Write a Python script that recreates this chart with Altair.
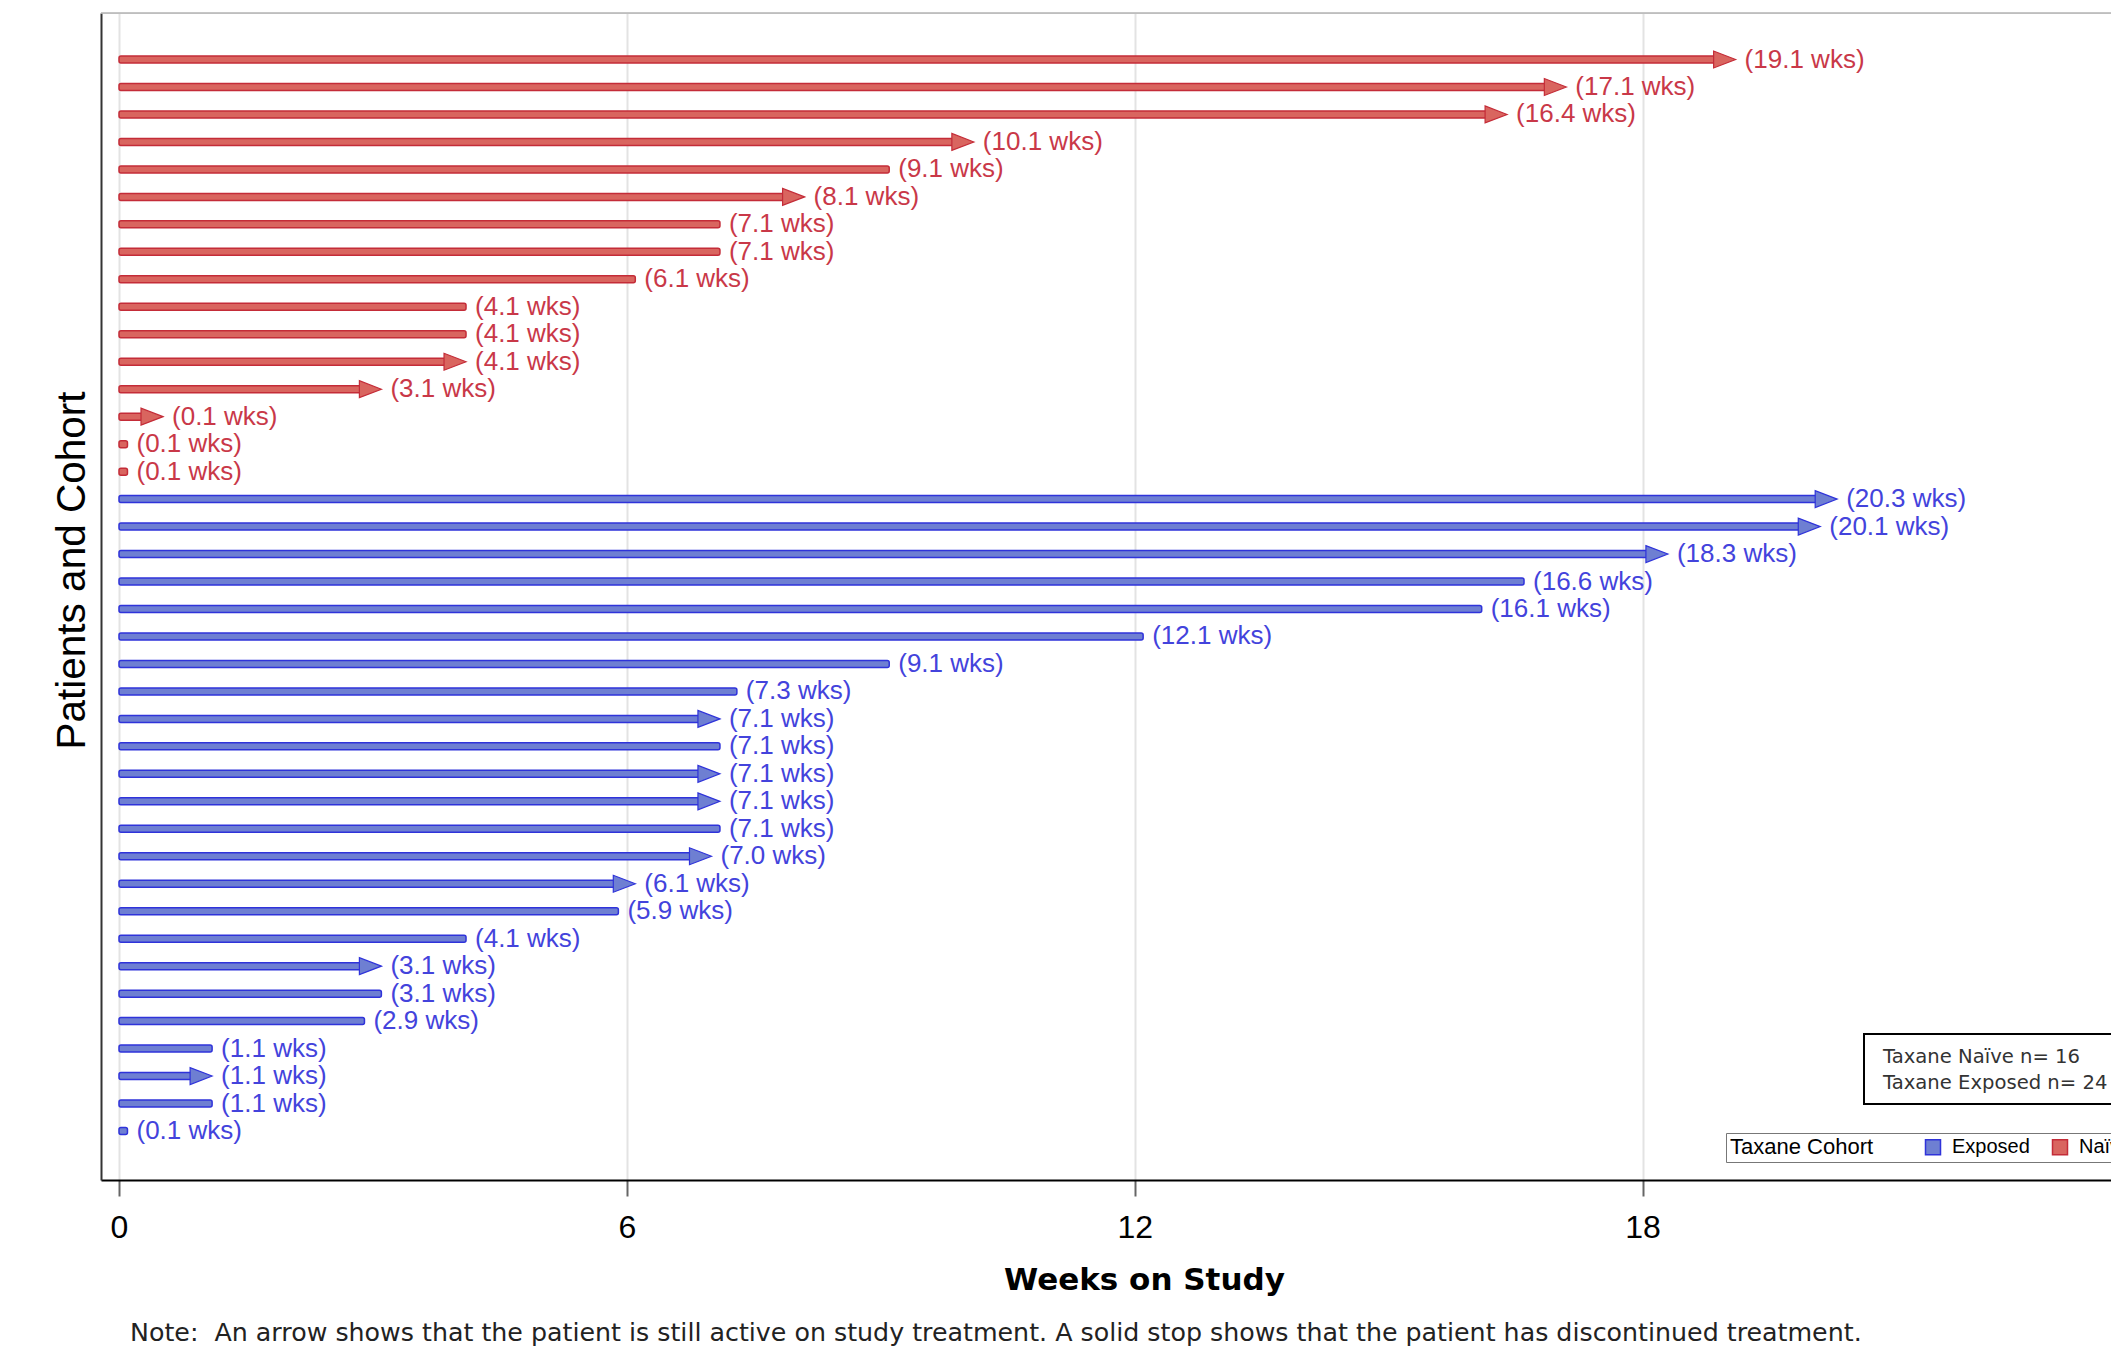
import altair as alt
import pandas as pd

# ---------------- data ----------------
cohorts = ["Exposed", "Naïve"]

# Taxane Naïve cohort, top to bottom
naive_weeks = [19.1, 17.1, 16.4, 10.1, 9.1, 8.1, 7.1, 7.1, 6.1, 4.1, 4.1, 4.1, 3.1, 0.1, 0.1, 0.1]
naive_ongoing = [1, 1, 1, 1, 0, 1, 0, 0, 0, 0, 0, 1, 1, 1, 0, 0]
naive_drawn_end = [19.1, 17.1, 16.4, 10.1, 9.1, 8.1, 7.1, 7.1, 6.1, 4.1, 4.1, 4.1, 3.1, 0.52, 0.1, 0.1]

# Taxane Exposed cohort, top to bottom
exposed_weeks = [20.3, 20.1, 18.3, 16.6, 16.1, 12.1, 9.1, 7.3, 7.1, 7.1, 7.1, 7.1, 7.1, 7.0,
                 6.1, 5.9, 4.1, 3.1, 3.1, 2.9, 1.1, 1.1, 1.1, 0.1]
exposed_ongoing = [1, 1, 1, 0, 0, 0, 0, 0, 1, 0, 1, 1, 0, 1, 1, 0, 0, 1, 0, 0, 0, 1, 0, 0]
exposed_drawn_end = [20.3, 20.1, 18.3, 16.6, 16.1, 12.1, 9.1, 7.3, 7.1, 7.1, 7.1, 7.1, 7.1, 7.0,
                     6.1, 5.9, 4.1, 3.1, 3.1, 2.9, 1.1, 1.1, 1.1, 0.1]

x_ticks = [0, 6, 12, 18]
n_box_lines = ["Taxane Naïve n= 16", "Taxane Exposed n= 24"]
note_text = ("Note:\u00a0 An arrow shows that the patient is still active on study treatment. "
             "A solid stop shows that the patient has discontinued treatment.")

# ---------------- styling ----------------
RED_FILL, RED_EDGE, RED_TEXT = "#D9655F", "#C42C38", "#C93848"
BLUE_FILL, BLUE_EDGE, BLUE_TEXT = "#6E7FD2", "#2F33DA", "#4343DC"
SANS = "Liberation Sans, Arial, sans-serif"
WIDE = "DejaVu Sans, sans-serif"
ARROW = "M0,0 L-2,-0.77 L-2,0.77 Z"

rows = []
pos = len(naive_weeks) + len(exposed_weeks)
for name, weeks, ongoing, ends in [("Naïve", naive_weeks, naive_ongoing, naive_drawn_end),
                                   ("Exposed", exposed_weeks, exposed_ongoing, exposed_drawn_end)]:
    for w, o, e in zip(weeks, ongoing, ends):
        rows.append({"row": pos, "cohort": name, "start": 0.0, "weeks": w, "end": e,
                     "status": "Ongoing" if o else "Stopped", "label": f"({w:.1f} wks)"})
        pos -= 1
df = pd.DataFrame(rows)

W, H = 2010, 1167
x_scale = alt.Scale(domain=[-0.2127, 23.535], nice=False, zero=False, padding=0)
y_scale = alt.Scale(domain=[-0.783, 41.693], nice=False, zero=False, padding=0)
fill_scale = alt.Scale(domain=cohorts, range=[BLUE_FILL, RED_FILL])
stroke_scale = alt.Scale(domain=cohorts, range=[BLUE_EDGE, RED_EDGE])

x_axis = alt.Axis(values=x_ticks, title="Weeks on Study", grid=True, gridColor="#e3e3e3", gridWidth=2,
                  domainColor="#000000", domainWidth=2, tickColor="#666666", tickWidth=2, tickSize=16,
                  labelFont=SANS, labelFontSize=32, labelColor="#000000", labelPadding=16,
                  labelFlush=False, format="d",
                  titleFont=WIDE, titleFontSize=31, titleFontWeight="bold", titleColor="#000000",
                  titleX=1043, titleY=109, titleBaseline="alphabetic", titleAlign="center")
y_axis = alt.Axis(title="Patients and Cohort", labels=False, ticks=False, grid=False,
                  domainColor="#333333", domainWidth=2,
                  titleFont=SANS, titleFontSize=40.5, titleFontWeight="normal", titleColor="#000000",
                  titleAngle=270, titleX=-17, titleY=557, titleBaseline="alphabetic", titleAlign="center")

legend = alt.Legend(title="Taxane Cohort", orient="none", legendX=1625, legendY=1120,
                    direction="horizontal", titleOrient="left", padding=4,
                    strokeColor="#777777", fillColor="#ffffff",
                    symbolType="square", symbolSize=225, symbolStrokeWidth=1.5, symbolOpacity=1,
                    labelFont=SANS, labelFontSize=20, labelFontWeight="normal", labelColor="#000000",
                    labelOffset=9, columnPadding=19,
                    titleFont=SANS, titleFontSize=22, titleFontWeight="normal", titleColor="#000000",
                    titlePadding=49)

base = alt.Chart(df)

bar_enc = dict(
    x=alt.X("start:Q", scale=x_scale, axis=x_axis),
    x2="end:Q",
    y=alt.Y("row:Q", scale=y_scale, axis=y_axis),
    fill=alt.Fill("cohort:N", scale=fill_scale, legend=legend),
    stroke=alt.Stroke("cohort:N", scale=stroke_scale, legend=legend),
)

bars_stopped = base.transform_filter("datum.status === 'Stopped'").mark_bar(
    height=7, strokeWidth=1.5, cornerRadius=2).encode(**bar_enc)

bars_ongoing = base.transform_filter("datum.status === 'Ongoing'").mark_bar(
    height=7, strokeWidth=1.5, cornerRadius=2, x2Offset=-12).encode(**bar_enc)

heads = base.transform_filter("datum.status === 'Ongoing'").mark_point(
    shape=ARROW, size=484, filled=True, opacity=1, strokeWidth=1.2).encode(
    x=alt.X("end:Q", scale=x_scale),
    y=alt.Y("row:Q", scale=y_scale),
    fill=alt.Fill("cohort:N", scale=fill_scale, legend=None),
    stroke=alt.Stroke("cohort:N", scale=stroke_scale, legend=None),
)

labels = base.mark_text(align="left", baseline="middle", dx=9, font=SANS, fontSize=26).encode(
    x=alt.X("end:Q", scale=x_scale),
    y=alt.Y("row:Q", scale=y_scale),
    text="label:N",
    color=alt.condition("datum.cohort === 'Naïve'", alt.value(RED_TEXT), alt.value(BLUE_TEXT)),
)

one = alt.Data(values=[{"k": 1}])

top_border = alt.Chart(one).mark_rule(color="#b3b3b3", strokeWidth=1.5).encode(
    x=alt.value(0), x2=alt.value(W + 10), y=alt.value(0))

n_box = alt.Chart(one).mark_rect(fill="#ffffff", stroke="#000000", strokeWidth=2).encode(
    x=alt.value(1763), x2=alt.value(2080), y=alt.value(1021), y2=alt.value(1091))

n_text = alt.Chart(one).mark_text(align="left", baseline="alphabetic", font=WIDE, fontSize=19.6,
                                  color="#333333", lineHeight=26).encode(
    x=alt.value(1782), y=alt.value(1050), text=alt.value(n_box_lines))

note = alt.Chart(one).mark_text(align="left", baseline="alphabetic", font=WIDE, fontSize=25.3,
                                color="#222222").encode(
    x=alt.value(29), y=alt.value(1328), text=alt.value(note_text))

chart = alt.layer(bars_stopped, bars_ongoing, heads, labels, top_border, n_box, n_text, note).properties(
    width=W, height=H,
    autosize=alt.AutoSizeParams(type="none"),
    padding={"left": 93, "top": 5, "right": 0, "bottom": 172},
).configure_view(stroke=None).configure(background="#ffffff")

chart.save("out.html", embed_options={"renderer": "svg", "actions": False})
